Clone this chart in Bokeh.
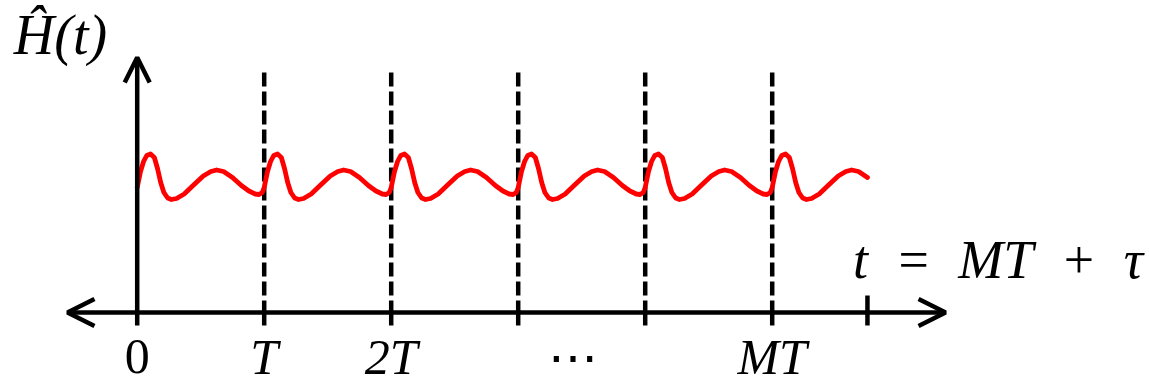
from bokeh.plotting import figure
from bokeh.models import Range1d, Arrow, OpenHead
from bokeh.core.properties import value
from bokeh.embed import file_html
from bokeh.resources import INLINE

# ---- data (time in units of the period T, height in arbitrary units) ----
# one period of H(tau)
period_tau = [0.000, 0.026, 0.050, 0.075, 0.105, 0.135, 0.160, 0.185, 0.210,
              0.240, 0.270, 0.310, 0.370, 0.440, 0.520, 0.580, 0.625, 0.680,
              0.750, 0.820, 0.880, 0.930, 0.960, 0.985]
period_h = [1.25, 1.41, 1.51, 1.57, 1.585, 1.55, 1.44, 1.30, 1.20,
            1.145, 1.13, 1.14, 1.185, 1.27, 1.365, 1.41, 1.425, 1.41,
            1.35, 1.27, 1.215, 1.185, 1.18, 1.20]
n_full_periods = 5          # periods 0 .. M-1 drawn completely
t_end = 5.75                # curve and axis tick end at MT + tau
marker_times = [1, 2, 3, 4, 5]          # dashed period boundaries
tick_label_pos = [0, 1, 2, 3.43, 5]
tick_label_txt = ["0", "T", "2T", "\u22ef", "MT"]
tick_label_italic = [False, True, True, False, True]

# build the curve by repeating the period
xs, ys = [], []
for k in range(n_full_periods + 1):
    for tau, h in zip(period_tau, period_h):
        t = k + tau
        if t <= t_end + 1e-9:
            xs.append(t)
            ys.append(h)
xs.append(t_end)
ys.append(1.35)

# ---- figure: 127 px per period, 100 px per height unit ----
PX_T = 127.0
X0 = -136.7 / PX_T
X1 = (1149 - 136.7) / PX_T
p = figure(width=1149, height=387, output_backend="svg", toolbar_location=None,
           x_range=Range1d(X0, X1), y_range=Range1d(-0.75, 3.12),
           x_axis_location=None, y_axis_location=None,
           min_border=0, min_border_left=0, min_border_right=0,
           min_border_top=0, min_border_bottom=0,
           background_fill_color="white", border_fill_color="white")
p.grid.visible = False
p.outline_line_color = None

LW = 4.5

# dashed period boundaries
p.segment(x0=marker_times, y0=[2.40] * len(marker_times),
          x1=marker_times, y1=[0] * len(marker_times),
          line_color="black", line_width=LW, line_dash="14 5")
# ticks below the axis
p.segment(x0=marker_times, y0=[0] * len(marker_times),
          x1=marker_times, y1=[-0.13] * len(marker_times),
          line_color="black", line_width=LW)
p.segment(x0=[t_end], y0=[0.17], x1=[t_end], y1=[-0.13],
          line_color="black", line_width=LW)

# time axis (double arrow)
p.add_layout(Arrow(start=OpenHead(size=27, line_width=LW, line_color="black"),
                   end=OpenHead(size=27, line_width=LW, line_color="black"),
                   x_start=-0.549, y_start=0, x_end=6.365, y_end=0,
                   line_width=LW, line_color="black"))
# vertical axis
p.add_layout(Arrow(end=OpenHead(size=25, line_width=LW, line_color="black"),
                   x_start=0, y_start=-0.13, x_end=0, y_end=2.55,
                   line_width=LW, line_color="black"))

# the signal
p.line(xs, ys, line_color="#ff0000", line_width=4.8, line_cap="round",
       line_join="round")

FONT = value("Liberation Serif")
FS = "54px"
LAB_FS = "50px"
LAB_Y = -0.44
up_x = [x for x, it in zip(tick_label_pos, tick_label_italic) if not it]
up_t = [s for s, it in zip(tick_label_txt, tick_label_italic) if not it]
it_x = [x for x, it in zip(tick_label_pos, tick_label_italic) if it]
it_t = [s for s, it in zip(tick_label_txt, tick_label_italic) if it]
p.text(x=up_x, y=[LAB_Y] * len(up_x), text=up_t, text_font=FONT,
       text_font_size=LAB_FS, text_align="center", text_baseline="middle",
       text_color="black")
p.text(x=it_x, y=[LAB_Y] * len(it_x), text=it_t, text_font=FONT,
       text_font_style="italic", text_font_size=LAB_FS, text_align="center",
       text_baseline="middle", text_color="black")

p.text(x=[6.778], y=[0.53], text=["t\u2002=\u2002MT\u2002+\u2002\u03c4"],
       text_font=FONT, text_font_style="italic", text_font_size=FS,
       text_align="center", text_baseline="middle", text_color="black")
p.text(x=[-0.604], y=[2.78], text=["\u0124(t)"], text_font=FONT,
       text_font_style="italic", text_font_size="56px", text_align="center",
       text_baseline="middle", text_color="black")

open("out.html", "w").write(file_html(p, INLINE))
